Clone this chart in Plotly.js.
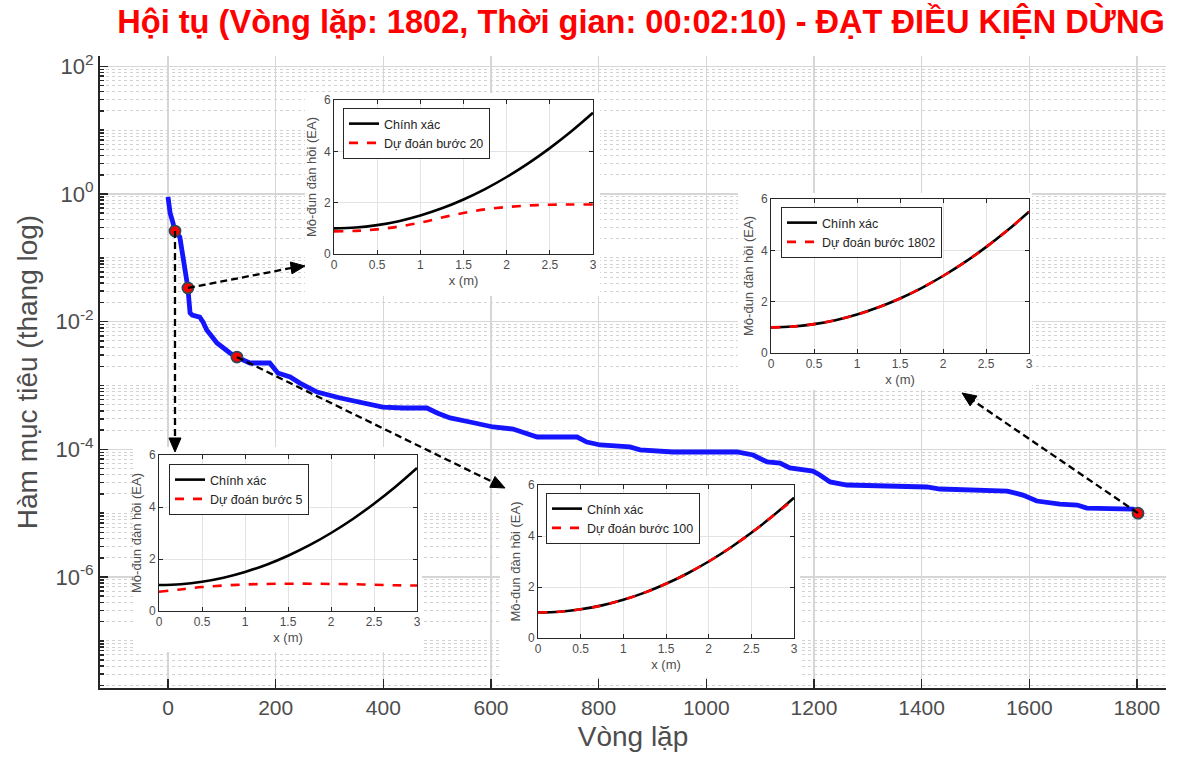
<!DOCTYPE html>
<html><head><meta charset="utf-8">
<script src="https://cdn.plot.ly/plotly-3.0.1.min.js"></script>
<style>html,body{margin:0;padding:0;background:#fff;}#chart{width:1179px;height:769px;}</style>
</head><body><div id="chart"></div>
<script>
const W = 1179, H = 769;
const titleText = "Hội tụ (Vòng lặp: 1802, Thời gian: 00:02:10) - ĐẠT ĐIỀU KIỆN DỪNG";
const xTitle = "Vòng lặp";
const yTitle = "Hàm mục tiêu (thang log)";
const xTickVals = [0, 200, 400, 600, 800, 1000, 1200, 1400, 1600, 1800];
const yTickVals = [1e-6, 1e-4, 1e-2, 1, 100];
const yTickText = ["10<sup>-6</sup>", "10<sup>-4</sup>", "10<sup>-2</sup>", "10<sup>0</sup>", "10<sup>2</sup>"];

// convergence history
const iterations = [0, 4, 9, 13, 22, 32, 37, 41, 45, 59, 65, 72, 91, 115, 128, 152, 189, 204, 227, 245, 277, 320, 362, 399, 437, 481, 500, 524, 561, 604, 641, 659, 686, 760, 778, 803, 858, 877, 938, 1057, 1087, 1113, 1137, 1155, 1198, 1211, 1230, 1261, 1310, 1410, 1434, 1559, 1588, 1614, 1657, 1689, 1707, 1793, 1802];
const objective = [0.90, 0.50, 0.36, 0.263, 0.212, 0.0718, 0.0337, 0.0137, 0.0127, 0.0118, 0.00988, 0.0074, 0.00463, 0.00323, 0.00279, 0.00225, 0.00225, 0.00157, 0.00136, 0.00109, 0.00079, 0.000637, 0.000532, 0.00046, 0.000444, 0.000444, 0.000371, 0.00031, 0.000268, 0.000224, 0.000208, 0.000187, 0.000156, 0.000156, 0.00013, 0.000117, 0.000109, 9.8e-5, 9.08e-5, 9.08e-5, 8.15e-5, 6.33e-5, 6.1e-5, 5.1e-5, 4.57e-5, 3.96e-5, 3.08e-5, 2.76e-5, 2.66e-5, 2.57e-5, 2.39e-5, 2.22e-5, 1.92e-5, 1.55e-5, 1.39e-5, 1.34e-5, 1.2e-5, 1.16e-5, 1.05e-5];

// snapshot markers
const snapSteps = [5, 20, 100, 1802];
const snapIter = [13, 37, 128, 1802];
const snapValue = [0.263, 0.0337, 0.00279, 1.0e-5];

// inset profiles
const xPos = [0, 0.25, 0.5, 0.75, 1, 1.25, 1.5, 1.75, 2, 2.25, 2.5, 2.75, 3];
const exactEA = [1.0, 1.03, 1.125, 1.28, 1.5, 1.78, 2.125, 2.53, 3.0, 3.53, 4.125, 4.78, 5.5];
const pred5 = [0.74, 0.83, 0.92, 0.98, 1.02, 1.04, 1.05, 1.05, 1.04, 1.03, 1.01, 0.99, 0.98];
const pred20 = [0.88, 0.9, 0.96, 1.07, 1.22, 1.42, 1.6, 1.74, 1.83, 1.89, 1.92, 1.93, 1.93];
const pred100 = [1.0, 1.03, 1.125, 1.28, 1.5, 1.78, 2.125, 2.53, 3.0, 3.53, 4.125, 4.78, 5.45];
const pred1802 = [1.0, 1.03, 1.125, 1.28, 1.5, 1.78, 2.125, 2.53, 3.0, 3.53, 4.125, 4.78, 5.5];
const predictions = [pred5, pred20, pred100, pred1802];
const legendExact = "Chính xác";
const legendPred = "Dự đoán bước ";
const insetX = "x (m)";
const insetY = "Mô-đun đàn hồi (EA)";

// layout geometry (pixels)
const mainBox = {l: 100, r: 1166, t: 56, b: 688};
const xRange = [-126.3, 1854.0];
const yRange = [-7.739, 2.162];
const insets = [
  {plot: [159, 417, 455, 611], bg: [133, 422, 447, 652], leg: [169, 464], tip: [175, 452], dir: [0, 1]},
  {plot: [334, 593, 100, 254], bg: [305, 600, 93, 296], leg: [343, 108], tip: [305, 266], dir: [0.99, -0.138]},
  {plot: [538, 794, 485, 638], bg: [500, 800, 476, 677], leg: [546, 493], tip: [505, 488], dir: [0.899, 0.438]},
  {plot: [771, 1029, 199, 353], bg: [738, 1032, 193, 390], leg: [781, 207], tip: [962, 393], dir: [-0.824, -0.567]}
];
const headLen = 14, headHalf = 6;

const px = v => v / W;
const py = v => 1 - v / H;
const xd = [px(mainBox.l), px(mainBox.r)];
const yd = [py(mainBox.b), py(mainBox.t)];
const pxToX = p => xRange[0] + (px(p) - xd[0]) / (xd[1] - xd[0]) * (xRange[1] - xRange[0]);
const pyToLog = p => yRange[0] + (py(p) - yd[0]) / (yd[1] - yd[0]) * (yRange[1] - yRange[0]);

const minorVals = [];
for (let e = -8; e <= 2; e++) for (let k = 1; k <= 9; k++) minorVals.push(k * Math.pow(10, e));

const FONT = "Liberation Sans, Arial, sans-serif";
const GREY = "#4d4d4d";

const traces = [
  {x: iterations, y: objective, type: "scatter", mode: "lines", xaxis: "x", yaxis: "y",
   line: {color: "#1414ff", width: 4.8}, showlegend: false, hoverinfo: "skip"},
  {x: snapIter, y: snapValue, type: "scatter", mode: "markers", xaxis: "x", yaxis: "y",
   marker: {size: 11, color: "#ff0000", line: {color: "#2f4858", width: 1.8}}, showlegend: false, hoverinfo: "skip"}
];

const layout = {
  width: W, height: H, autosize: false,
  margin: {l: 0, r: 0, t: 0, b: 0},
  paper_bgcolor: "#ffffff", plot_bgcolor: "#ffffff",
  font: {family: FONT, color: GREY},
  title: {text: "<b>" + titleText + "</b>", font: {family: FONT, size: 32.6, color: "#ff0000"},
          x: px(641), xanchor: "center", xref: "paper", y: py(22), yanchor: "middle", yref: "paper"},
  xaxis: {domain: xd, range: xRange, tickvals: xTickVals, ticks: "inside", ticklen: 9, tickwidth: 1.5, tickcolor: "#262626",
          showline: true, linewidth: 2, linecolor: "#262626", showgrid: true, gridcolor: "#d6d6d6", gridwidth: 1.5,
          zeroline: false, tickfont: {size: 21, color: GREY}, anchor: "y",
          title: {text: xTitle, font: {size: 28, color: GREY}, standoff: 8}},
  yaxis: {type: "log", domain: yd, range: yRange, tickvals: yTickVals, ticktext: yTickText, ticks: "inside", ticklen: 8,
          tickwidth: 1.5, tickcolor: "#262626", showline: true, linewidth: 2, linecolor: "#262626",
          showgrid: true, gridcolor: "#d6d6d6", gridwidth: 1.5, zeroline: false, anchor: "x",
          tickfont: {size: 22, color: GREY},
          minor: {tickmode: "array", tickvals: minorVals, ticks: "inside", ticklen: 4, tickcolor: "#262626",
                  showgrid: true, gridcolor: "#d2d2d2", griddash: "dot", gridwidth: 1},
          title: {text: yTitle, font: {size: 28, color: GREY}, standoff: 10}},
  shapes: []
};

insets.forEach((ins, i) => {
  const n = i + 2;
  const xa = "x" + n, ya = "y" + n, lg = "legend" + n;
  // white backdrop behind inset
  layout.shapes.push({type: "rect", xref: "x", yref: "y", layer: "between",
    x0: pxToX(ins.bg[0]), x1: pxToX(ins.bg[1]),
    y0: Math.pow(10, pyToLog(ins.bg[3])), y1: Math.pow(10, pyToLog(ins.bg[2])),
    fillcolor: "#ffffff", line: {width: 0}});
  // dashed arrow from snapshot marker to inset
  const d = ins.dir;
  const baseX = ins.tip[0] - d[0] * (headLen - 2), baseY = ins.tip[1] - d[1] * (headLen - 2);
  layout.shapes.push({type: "line", xref: "x", yref: "y", layer: "above",
    x0: snapIter[i], y0: snapValue[i], x1: pxToX(baseX), y1: Math.pow(10, pyToLog(baseY)),
    line: {color: "#000000", width: 2.3, dash: "7px,4px"}});
  // arrowhead triangle (paper coordinates)
  const bx = ins.tip[0] - d[0] * headLen, by = ins.tip[1] - d[1] * headLen;
  const nx = -d[1], ny = d[0];
  const pts = [[ins.tip[0], ins.tip[1]], [bx + nx * headHalf, by + ny * headHalf], [bx - nx * headHalf, by - ny * headHalf]];
  const path = "M" + pts.map(p => px(p[0]).toFixed(5) + "," + py(p[1]).toFixed(5)).join(" L") + " Z";
  layout.shapes.push({type: "path", xref: "paper", yref: "paper", layer: "above", path: path,
    fillcolor: "#000000", line: {color: "#000000", width: 1}});

  layout["xaxis" + n] = {domain: [px(ins.plot[0]), px(ins.plot[1])], anchor: ya, range: [0, 3], dtick: 0.5, tick0: 0,
    ticks: "inside", ticklen: 4, tickcolor: "#262626", showline: true, mirror: "ticks", linecolor: "#262626", linewidth: 1,
    showgrid: true, gridcolor: "#e3e3e3", zeroline: false, tickfont: {size: 12, color: GREY},
    title: {text: insetX, font: {size: 13, color: GREY}, standoff: 4}};
  layout["yaxis" + n] = {domain: [py(ins.plot[3]), py(ins.plot[2])], anchor: xa, range: [0, 6], dtick: 2, tick0: 0,
    ticks: "inside", ticklen: 4, tickcolor: "#262626", showline: true, mirror: "ticks", linecolor: "#262626", linewidth: 1,
    showgrid: true, gridcolor: "#e3e3e3", zeroline: false, tickfont: {size: 12, color: GREY},
    title: {text: insetY, font: {size: 13, color: GREY}, standoff: 4}};
  layout[lg] = {x: px(ins.leg[0]), y: py(ins.leg[1]), xanchor: "left", yanchor: "top", xref: "paper", yref: "paper",
    bgcolor: "#ffffff", bordercolor: "#262626", borderwidth: 1, font: {size: 12.5, color: "#262626"}};

  traces.push({x: xPos, y: exactEA, type: "scatter", mode: "lines", xaxis: xa, yaxis: ya, legend: lg,
    name: legendExact, line: {color: "#000000", width: 2.6, shape: "spline"}, hoverinfo: "skip"});
  traces.push({x: xPos, y: predictions[i], type: "scatter", mode: "lines", xaxis: xa, yaxis: ya, legend: lg,
    name: legendPred + snapSteps[i], line: {color: "#ff0000", width: 2.6, dash: "dash", shape: "spline"}, hoverinfo: "skip"});
});

Plotly.newPlot("chart", traces, layout, {staticPlot: true, displayModeBar: false});
</script></body></html>
